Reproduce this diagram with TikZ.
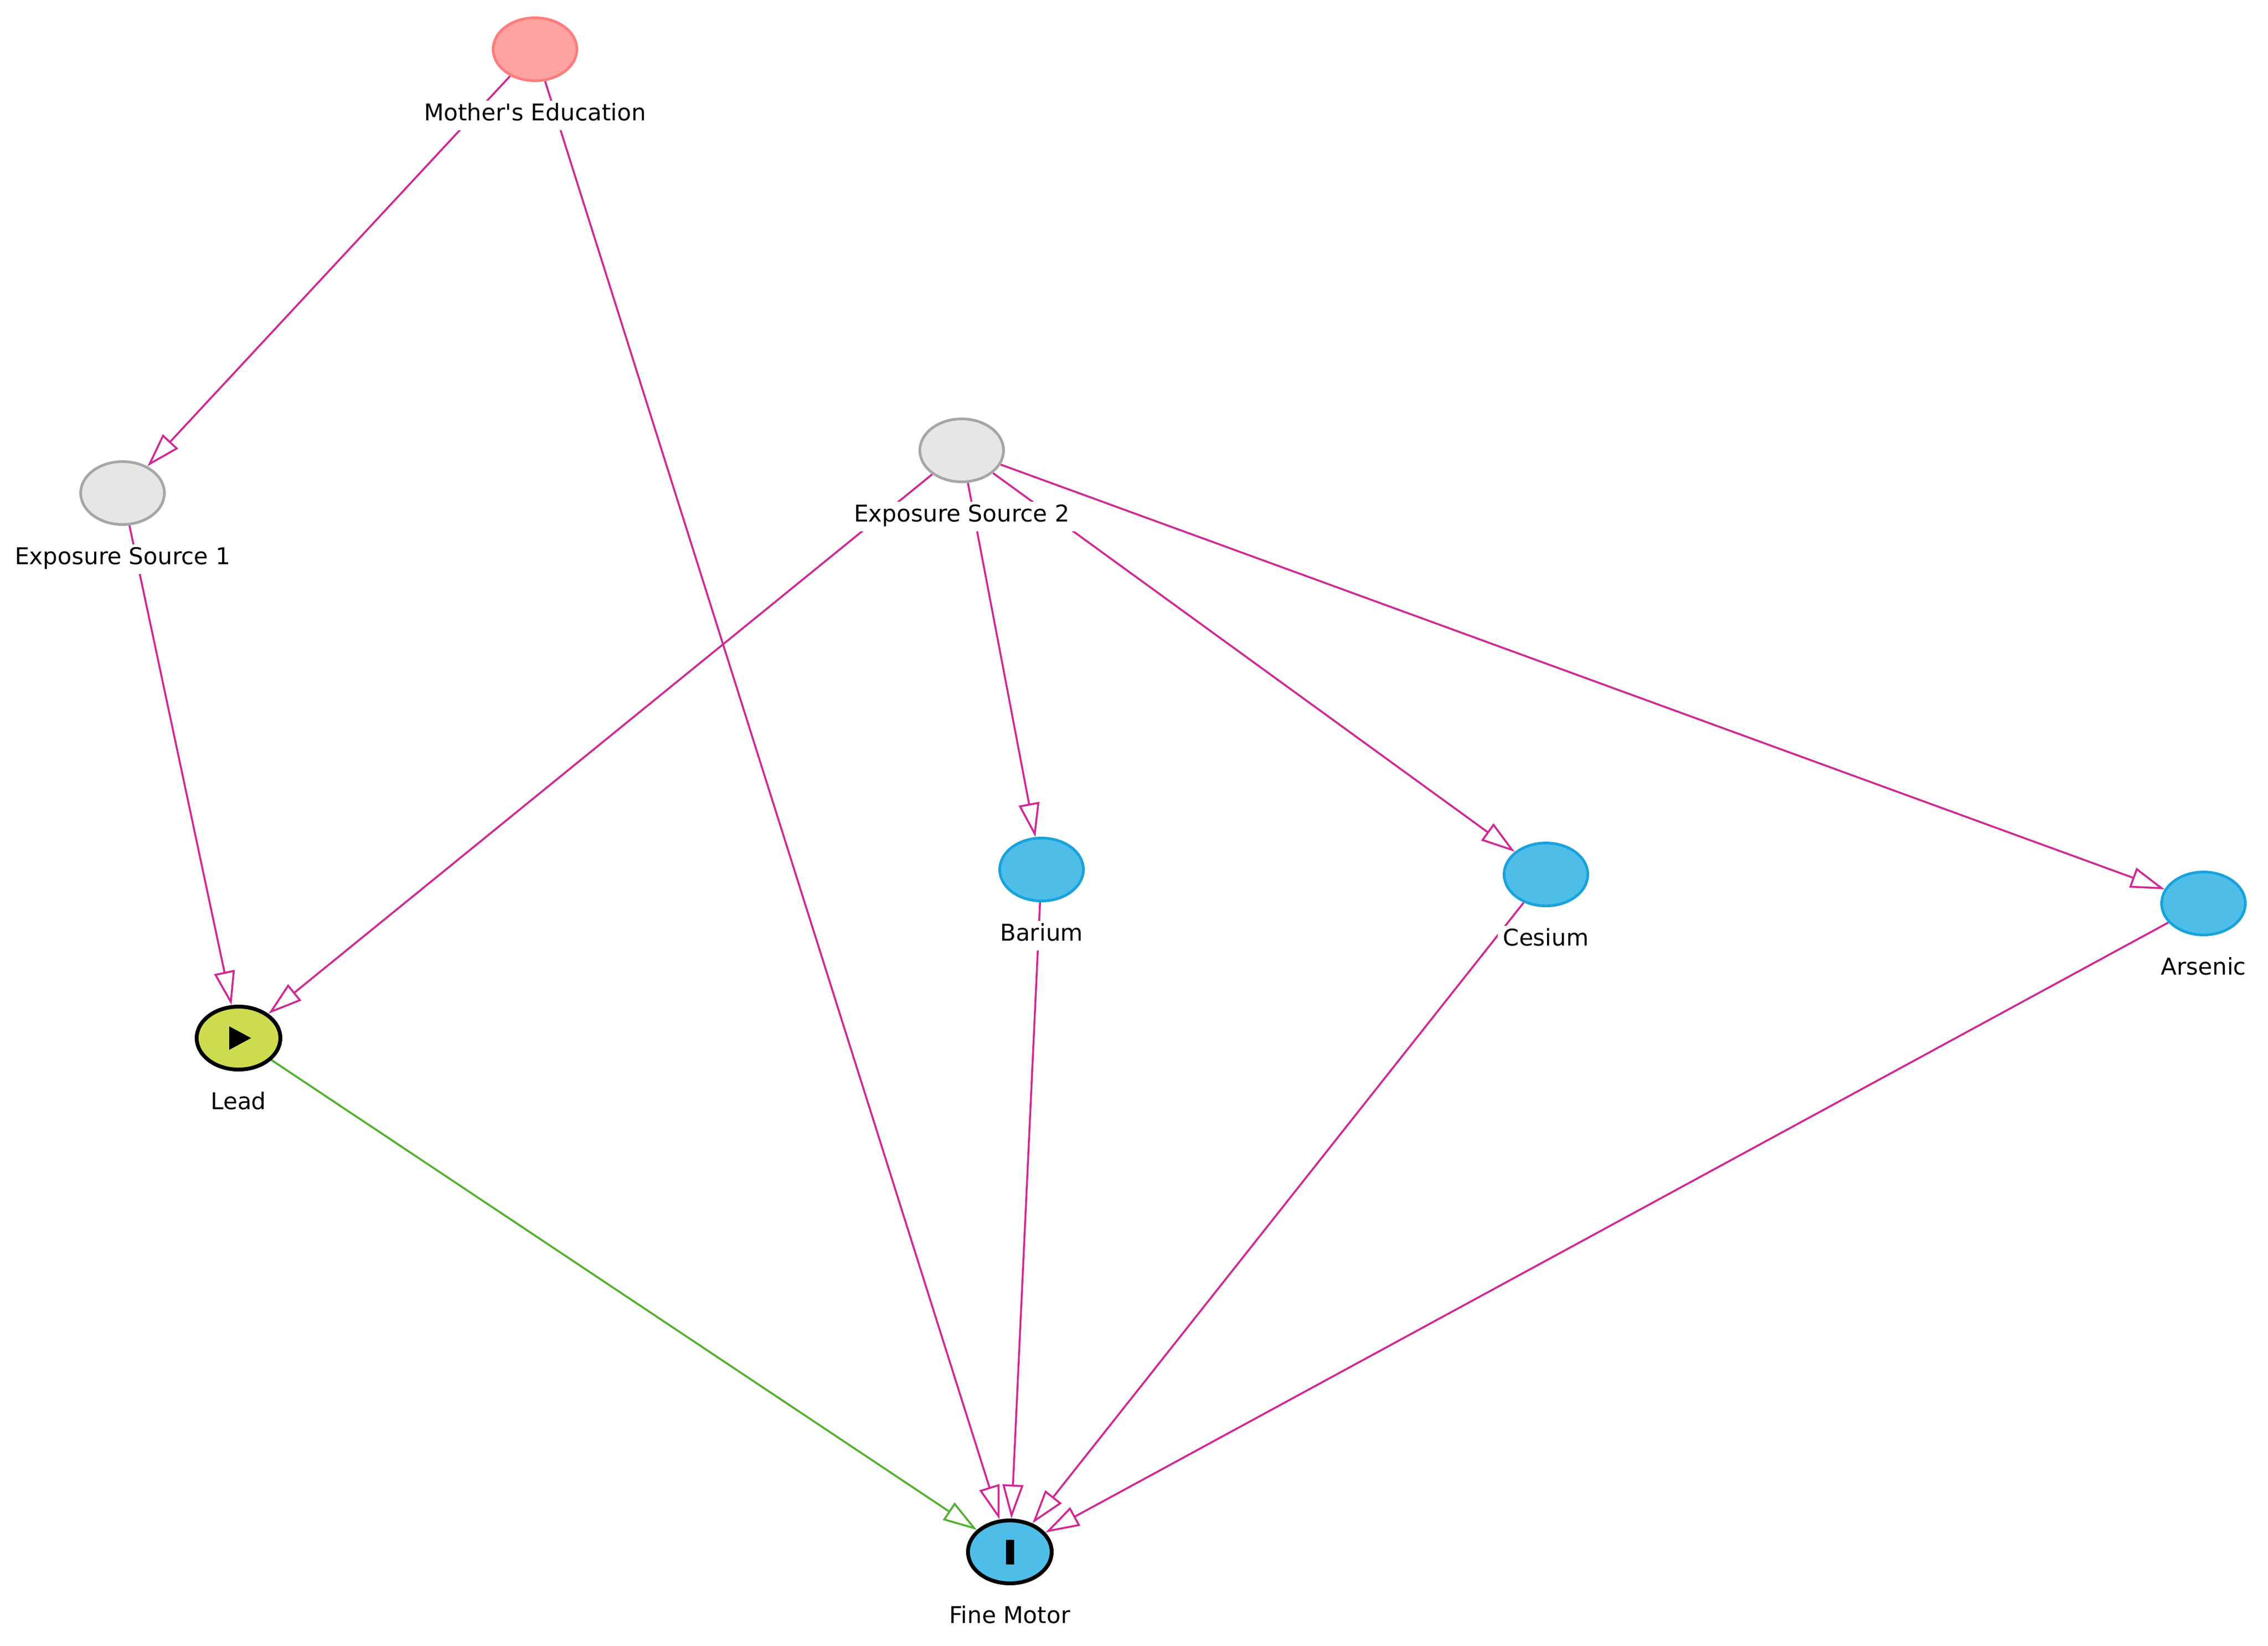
\documentclass[tikz,border=0pt]{standalone}
\usepackage{fontspec}
\setmainfont{DejaVu Sans}
\usetikzlibrary{positioning,shapes.geometric,arrows.meta,backgrounds}
\definecolor{biasline}{RGB}{208,40,148}
\definecolor{causalline}{RGB}{82,176,48}
\definecolor{expfill}{RGB}{205,220,78}
\definecolor{outfill}{RGB}{78,190,232}
\definecolor{outdraw}{RGB}{24,162,220}
\definecolor{adjfill}{RGB}{255,162,162}
\definecolor{adjdraw}{RGB}{255,124,124}
\definecolor{latfill}{RGB}{230,230,230}
\definecolor{latdraw}{RGB}{166,166,166}

\begin{document}
\begin{tikzpicture}[node distance=1.21cm]
                            \tikzset{var/.style={draw, shape=ellipse, minimum width=1.53cm, minimum height=1.15cm, inner sep=0pt, line width=1.4pt},
                                     latent/.style={var, fill=latfill, draw=latdraw},
                                     adjusted/.style={var, fill=adjfill, draw=adjdraw},
                                     ancestor/.style={var, fill=outfill, draw=outdraw},
                                     exposure/.style={var, fill=expfill, line width=2pt},
                                     outcome/.style={var, fill=outfill, line width=2pt},
                                     varname/.style={fill=white, inner sep=0.1cm, font=\fontsize{12}{14}\selectfont, text height=0.76em, text depth=0.22em},
                                     edge/.style={line width=1pt, -{Triangle[length=0.62cm, width=0.38cm, fill=white]}},
                                     bias/.style={edge, draw=biasline},
                                     causal/.style={edge, draw=causalline}}
                            \useasboundingbox (0,0) rectangle (41.46,-30.07);
                            \node[adjusted] at (9.78,-0.90) (mother) {};
                            \node[latent] at (2.24,-9.01) (es1) {};
                            \node[latent] at (17.58,-8.23) (es2) {};
                            \node[ancestor] at (19.04,-15.89) (barium) {};
                            \node[ancestor] at (28.26,-15.98) (cesium) {};
                            \node[ancestor] at (40.28,-16.51) (arsenic) {};
                            \node[exposure] at (4.36,-18.97) (lead) {};
                            \node[outcome] at (18.46,-28.36) (fine) {};
                            \fill (lead.center) ++(-0.17,0.215) -- ++(0.4,-0.215) -- ++(-0.4,-0.215) -- cycle;
                            \fill (fine.center) ++(-0.075,-0.225) rectangle ++(0.15,0.45);
                            \node[varname, below of = mother] (mother-l) {Mother\textquotesingle s Education};
                            \node[varname, below of = es1] (es1-l) {Exposure Source 1};
                            \node[varname, below of = es2] (es2-l) {Exposure Source 2};
                            \node[varname, below of = barium] (barium-l) {Barium};
                            \node[varname, below of = cesium] (cesium-l) {Cesium};
                            \node[varname, below of = arsenic] (arsenic-l) {Arsenic};
                            \node[varname, below of = lead] (lead-l) {Lead};
                            \node[varname, below of = fine] (fine-l) {Fine Motor};
                            \begin{pgfonlayer}{background}
                            \draw[bias] (mother) -- (es1);
                            \draw[bias] (mother) -- (fine);
                            \draw[bias] (es1) -- (lead);
                            \draw[bias] (es2) -- (lead);
                            \draw[bias] (es2) -- (barium);
                            \draw[bias] (es2) -- (cesium);
                            \draw[bias] (es2) -- (arsenic);
                            \draw[bias] (barium) -- (fine);
                            \draw[bias] (cesium) -- (fine);
                            \draw[bias] (arsenic) -- (fine);
                            \draw[causal] (lead) -- (fine);
                            \end{pgfonlayer}
                        \end{tikzpicture}
\end{document}
